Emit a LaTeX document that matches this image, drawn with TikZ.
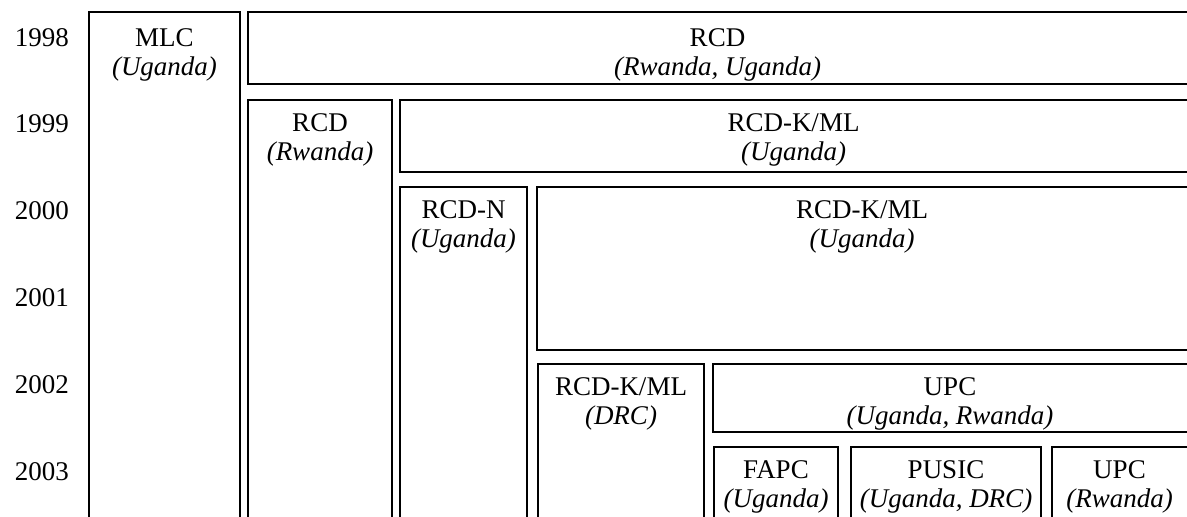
\documentclass[tikz,border=0pt]{standalone}
\usepackage{fontspec}
\setmainfont{Liberation Serif}
\newfontfamily\orgserif{Liberation Serif}
\newcommand{\orgfont}{\orgserif\fontsize{27}{29}\selectfont}
\newcommand{\org}[3][31pt]{\rule{0pt}{#1}#2\\\textit{#3}}
\tikzset{
    box/.style={draw=black, line width=1.2pt},
    orgtext/.style={anchor=north, align=center, inner sep=0pt, font=\orgfont},
    year/.style={anchor=base, inner sep=0pt, font=\orgfont}
}

\begin{document}
\begin{tikzpicture}[x=1pt, y=-1pt]
        \useasboundingbox (0,0) rectangle (1187,517);
        \clip (0,0) rectangle (1187,517);
        % years
        \foreach \yr [count=\i from 0] in {1998,1999,2000,2001,2002,2003}
                \node[year] (y\yr) at (42, 46+86.8*\i) {\yr};
        % groups
        \draw[box] (89,12) rectangle (240,522);
        \node[orgtext] (mlc) at (164.5,12) {\org[34pt]{MLC}{(Uganda)}};
        \draw[box] (248,12) rectangle (1192,84);
        \node[orgtext] (rcd) at (717.5,12) {\org[34pt]{RCD}{(Rwanda, Uganda)}};
        \draw[box] (248,100) rectangle (392,522);
        \node[orgtext] (rcdg) at (320,100) {\org{RCD}{(Rwanda)}};
        \draw[box] (400,100) rectangle (1192,172);
        \node[orgtext] (kml1) at (793.5,100) {\org{RCD-K/ML}{(Uganda)}};
        \draw[box] (400,187) rectangle (527,522);
        \node[orgtext] (rcdn) at (463.5,187) {\org{RCD-N}{(Uganda)}};
        \draw[box] (537,187) rectangle (1192,350);
        \node[orgtext] (kml2) at (862,187) {\org{RCD-K/ML}{(Uganda)}};
        \draw[box] (538,364) rectangle (704,522);
        \node[orgtext] (kml3) at (621,364) {\org{RCD-K/ML}{(DRC)}};
        \draw[box] (713,364) rectangle (1192,432);
        \node[orgtext] (upc1) at (950,364) {\org{UPC}{(Uganda, Rwanda)}};
        \draw[box] (714,447) rectangle (838,522);
        \node[orgtext] (fapc) at (776,447) {\org{FAPC}{(Uganda)}};
        \draw[box] (851,447) rectangle (1041,522);
        \node[orgtext] (pusic) at (946,447) {\org{PUSIC}{(Uganda, DRC)}};
        \draw[box] (1052,447) rectangle (1192,522);
        \node[orgtext] (upc2) at (1119.5,447) {\org{UPC}{(Rwanda)}};
\end{tikzpicture}
\end{document}
